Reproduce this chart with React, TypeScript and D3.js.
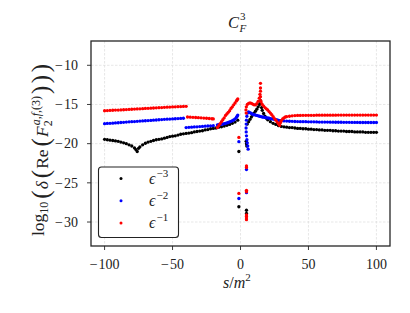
import React from 'react';
import * as d3 from 'd3';

type Pt = [number, number];

// axis ticks
const xTicks = [-100, -50, 0, 50, 100];
const yTicks = [-30, -25, -20, -15, -10];

// legend
const legendExps = ['−3', '−2', '−1'];
const seriesColors = ['black', 'blue', 'red'];

// epsilon^-3 coefficient, [s/m^2, log10 delta]
const epsM3: Pt[] = [
  [-100, -19.45], [-98, -19.5], [-96, -19.55], [-94, -19.6], [-92, -19.65], [-90, -19.7],
  [-88, -19.8], [-86, -19.9], [-84, -20.0], [-82, -20.15], [-80, -20.3], [-78, -20.55],
  [-77, -20.75], [-76, -21.0], [-75, -20.6], [-74, -20.4], [-72, -20.15], [-70, -19.95],
  [-68, -19.8], [-66, -19.7], [-64, -19.6], [-62, -19.5], [-60, -19.45], [-58, -19.4],
  [-56, -19.3], [-54, -19.2], [-52, -19.1], [-50, -19.05], [-48, -19.0], [-46, -18.9],
  [-44, -18.8], [-42, -18.75], [-40, -18.7], [-38, -18.65], [-36, -18.6], [-34, -18.5],
  [-32, -18.45], [-30, -18.4], [-28, -18.35], [-26, -18.25], [-24, -18.2], [-22, -18.1],
  [-20, -18.05], [-18, -18.0], [-16, -17.9], [-14, -17.85], [-12, -17.75], [-10, -17.65],
  [-8, -17.55], [-6, -17.4], [-4, -17.25], [-2, -17.0],
  [-1.2, -21.0], [-1.2, -28.05], [4.2, -19.7], [4.4, -20.0], [4.6, -20.3], [4.4, -28.5], [4.4, -28.9],
  [5, -17.5], [6, -17.2], [7, -16.9], [8, -16.6], [9, -16.35], [10, -16.1], [11, -15.85],
  [12, -15.6], [13, -15.3], [14, -15.0], [14.7, -14.85], [14.7, -14.5], [15.5, -15.4],
  [16, -15.75], [17, -16.15], [18, -16.5], [19, -16.75], [20, -16.95], [22, -17.2],
  [24, -17.4], [26, -17.55], [28, -17.7], [30, -17.8], [32, -17.85], [34, -17.9],
  [36, -17.95], [38, -17.95], [40, -18.0], [42, -18.05], [44, -18.05], [46, -18.1],
  [48, -18.1], [50, -18.15], [52, -18.15], [54, -18.2], [56, -18.2], [58, -18.25],
  [60, -18.25], [62, -18.3], [64, -18.3], [66, -18.3], [68, -18.35], [70, -18.35],
  [72, -18.4], [74, -18.4], [76, -18.4], [78, -18.45], [80, -18.45], [82, -18.45],
  [84, -18.5], [86, -18.5], [88, -18.5], [90, -18.5], [92, -18.55], [94, -18.55],
  [96, -18.55], [98, -18.55], [100, -18.55],
];

// epsilon^-2 coefficient
const epsM2: Pt[] = [
  [-100, -17.45], [-98, -17.42], [-96, -17.4], [-94, -17.38], [-92, -17.35], [-90, -17.33],
  [-88, -17.3], [-86, -17.28], [-84, -17.25], [-82, -17.22], [-80, -17.2], [-78, -17.18],
  [-76, -17.15], [-74, -17.12], [-72, -17.1], [-70, -17.08], [-68, -17.05], [-66, -17.03],
  [-64, -17.0], [-62, -16.98], [-60, -16.95], [-58, -16.93], [-56, -16.9], [-54, -16.88],
  [-52, -16.86], [-50, -16.84], [-48, -16.82], [-46, -16.8], [-44, -16.78], [-42, -16.76],
  [-40, -17.95], [-38, -17.92], [-36, -17.9], [-34, -17.87], [-32, -17.85], [-30, -17.82],
  [-28, -17.8], [-26, -17.77], [-24, -17.75], [-22, -17.72], [-20, -17.7],
  [-17, -17.6], [-16, -17.58], [-15, -17.55], [-14, -17.52], [-13, -17.5], [-12, -17.45],
  [-11, -17.4], [-10, -17.35], [-9, -17.3], [-8, -17.22], [-7, -17.15], [-6, -17.07],
  [-5, -16.98], [-4, -16.85], [-3, -16.65], [-2.5, -16.5], [-2, -16.35],
  [-1.2, -19.75], [-1.2, -27.0], [4.4, -23.3], [4.4, -26.25],
  [5.6, -20.7], [5.3, -20.3], [5.0, -19.9], [4.7, -19.5], [4.4, -19.0], [4.2, -18.5],
  [4.1, -18.0], [4.2, -17.5], [4.4, -17.0], [4.7, -16.5], [5.2, -16.1],
  [6, -15.95], [7, -16.05], [8, -16.15], [9, -16.25], [10, -16.3], [11, -16.35],
  [12, -16.4], [13, -16.45], [14, -16.5], [15, -16.55], [16, -16.6], [17, -16.62],
  [18, -16.65], [19, -16.7], [20, -16.72], [21, -16.75], [22, -16.8], [23, -16.83],
  [24, -16.86], [25, -16.9], [26, -16.94], [27, -16.98], [28, -17.02], [29, -17.06],
  [30, -17.08], [32, -17.1], [34, -17.12], [36, -17.14], [38, -17.15], [40, -17.17],
  [42, -17.18], [44, -17.19], [46, -17.2], [48, -17.2], [50, -17.21], [52, -17.22],
  [54, -17.22], [56, -17.23], [58, -17.24], [60, -17.24], [62, -17.25], [64, -17.25],
  [66, -17.26], [68, -17.26], [70, -17.27], [72, -17.27], [74, -17.27], [76, -17.28],
  [78, -17.28], [80, -17.28], [82, -17.29], [84, -17.29], [86, -17.29], [88, -17.3],
  [90, -17.3], [92, -17.3], [94, -17.3], [96, -17.3], [98, -17.3], [100, -17.3],
];

// epsilon^-1 coefficient
const epsM1: Pt[] = [
  [-100, -15.8], [-98, -15.78], [-96, -15.76], [-94, -15.74], [-92, -15.72], [-90, -15.71],
  [-88, -15.69], [-86, -15.67], [-84, -15.65], [-82, -15.63], [-80, -15.61], [-78, -15.59],
  [-76, -15.57], [-74, -15.55], [-72, -15.53], [-70, -15.51], [-68, -15.49], [-66, -15.47],
  [-64, -15.45], [-62, -15.43], [-60, -15.41], [-58, -15.39], [-56, -15.37], [-54, -15.35],
  [-52, -15.33], [-50, -15.31], [-48, -15.3], [-46, -15.28], [-44, -15.27], [-42, -15.25],
  [-40, -15.24],
  [-39, -16.6], [-37, -16.62], [-35, -16.64], [-33, -16.66], [-31, -16.68], [-29, -16.7],
  [-27, -16.73], [-25, -16.76], [-23, -16.79], [-21, -16.82], [-20, -16.85],
  [-17, -17.95], [-16, -17.7], [-15, -17.45], [-14, -17.2], [-13, -16.95], [-12, -16.7],
  [-11, -16.4], [-10, -16.2], [-9, -16.0], [-8, -15.8], [-7, -15.5], [-6, -15.3],
  [-5, -15.05], [-4, -14.8], [-3, -14.55], [-2.5, -14.42], [-2, -14.3],
  [-1.2, -19.2], [-1.2, -26.35], [4.4, -22.85], [4.4, -23.05], [4.4, -25.95], [4.4, -26.15],
  [4.4, -29.1], [4.4, -29.3], [4.4, -29.5], [4.4, -29.7],
  [4.2, -16.1], [4.0, -15.7], [4.3, -15.3], [5, -15.0], [6, -14.85], [7, -14.8],
  [8, -14.85], [9, -14.95], [10, -15.05], [11, -15.05], [12, -14.9], [13, -14.6],
  [13.8, -14.2], [14.3, -13.7], [14.7, -13.3], [14.7, -12.9], [14.7, -12.3], [14.7, -14.0],
  [14.8, -14.5], [15.2, -14.7], [16, -15.0], [17, -15.2], [18, -15.4], [19, -15.55],
  [20, -15.7], [21, -15.9], [22, -16.1], [23, -16.3], [24, -16.55], [25, -16.8],
  [26, -17.0], [27, -17.25], [28, -17.45], [28.8, -17.65], [29.5, -17.3], [30, -17.05],
  [31, -16.85], [32, -16.7], [33, -16.6], [34, -16.55], [36, -16.5], [38, -16.45],
  [40, -16.42], [42, -16.4], [44, -16.4], [46, -16.39], [48, -16.39], [50, -16.38],
  [52, -16.38], [54, -16.38], [56, -16.37], [58, -16.37], [60, -16.37], [62, -16.36],
  [64, -16.36], [66, -16.36], [68, -16.36], [70, -16.36], [72, -16.35], [74, -16.35],
  [76, -16.35], [78, -16.35], [80, -16.35], [82, -16.35], [84, -16.35], [86, -16.35],
  [88, -16.35], [90, -16.35], [92, -16.35], [94, -16.35], [96, -16.35], [98, -16.35],
  [100, -16.35],
];

const allSeries = [epsM3, epsM2, epsM1];

const W = 410;
const H = 313;
const plot = { left: 91, right: 390, top: 41, bottom: 246 };
const FONT = '"Liberation Serif", "DejaVu Serif", serif';

const App = () => {
  const x = d3.scaleLinear().domain([-110, 110]).range([plot.left, plot.right]);
  const y = d3.scaleLinear().domain([-33.06, -6.9]).range([plot.bottom, plot.top]);

  return (
    <svg width={W} height={H} style={{ position: 'absolute', left: 0, top: 0, background: 'white' }}
      fontFamily={FONT}>
      {/* grid */}
      <g stroke="#dcdcdc" strokeWidth={0.7} strokeDasharray="2.5,1.5">
        {xTicks.map(t => (
          <line key={'gx' + t} x1={x(t)} x2={x(t)} y1={plot.top} y2={plot.bottom} />
        ))}
        {yTicks.map(t => (
          <line key={'gy' + t} x1={plot.left} x2={plot.right} y1={y(t)} y2={y(t)} />
        ))}
      </g>

      {/* points */}
      {allSeries.map((pts, i) => (
        <g key={'s' + i} fill={seriesColors[i]}>
          {pts.map((p, j) => (
            <circle key={j} cx={x(p[0])} cy={y(p[1])} r={1.65} />
          ))}
        </g>
      ))}

      {/* frame */}
      <rect x={plot.left} y={plot.top} width={plot.right - plot.left} height={plot.bottom - plot.top}
        fill="none" stroke="#262626" strokeWidth={1.3} />

      {/* x axis */}
      {xTicks.map(t => (
        <g key={'xt' + t}>
          <line x1={x(t)} x2={x(t)} y1={plot.bottom} y2={plot.bottom + 4} stroke="#262626" strokeWidth={0.9} />
          <text x={x(t)} y={269} textAnchor="middle" fontSize={14} fill="#222">
            {t < 0 ? <><tspan>−</tspan><tspan dx={1}>{Math.abs(t)}</tspan></> : String(t)}
          </text>
        </g>
      ))}

      {/* y axis */}
      {yTicks.map(t => (
        <g key={'yt' + t}>
          <line x1={plot.left - 4} x2={plot.left} y1={y(t)} y2={y(t)} stroke="#262626" strokeWidth={0.9} />
          <text x={78} y={y(t) + 4.8} textAnchor="end" fontSize={14} fill="#222">
            <tspan>−</tspan><tspan dx={1}>{Math.abs(t)}</tspan>
          </text>
        </g>
      ))}

      {/* title */}
      <text x={228} y={28} fontSize={16.5} fill="#222">
        <tspan fontStyle="italic">C</tspan>
        <tspan fontSize={11} dy={-8} dx={1}>3</tspan>
        <tspan fontSize={11} fontStyle="italic" dy={12} dx={-6}>F</tspan>
      </text>

      {/* x label */}
      <text x={223} y={288} fontSize={16} fill="#222">
        <tspan fontStyle="italic">s</tspan>
        <tspan>/</tspan>
        <tspan fontStyle="italic">m</tspan>
        <tspan fontSize={11} dy={-7}>2</tspan>
      </text>

      {/* y label */}
      <text transform={`translate(44,236) rotate(-90)`} fontSize={17.5} fill="#222">
        <tspan>log</tspan>
        <tspan fontSize={12} dy={4}>10</tspan>
        <tspan fontSize={25} dy={1} dx={3}>(</tspan>
        <tspan fontStyle="italic" dy={-1} dx={1}>δ</tspan>
        <tspan fontSize={25} dy={1} dx={3}>(</tspan>
        <tspan dy={-1} dx={1}>Re</tspan>
        <tspan fontSize={25} dy={1} dx={3}>(</tspan>
        <tspan fontStyle="italic" dy={-1} dx={1}>F</tspan>
        <tspan fontSize={12} dy={4}>2</tspan>
        <tspan fontSize={12} fontStyle="italic" dy={-12} dx={-5}>a,f,</tspan>
        <tspan fontSize={12}>(3)</tspan>
        <tspan fontSize={25} dy={9} dx={2}>)</tspan>
        <tspan fontSize={25} dx={2.5}>)</tspan>
        <tspan fontSize={25} dx={2.5}>)</tspan>
      </text>

      {/* legend */}
      <rect x={98.5} y={167} width={80} height={70.5} rx={3} fill="white" stroke="#222" strokeWidth={1.1} />
      {legendExps.map((e, i) => {
        const ly = 178.5 + i * 22.3;
        return (
          <g key={'lg' + i}>
            <circle cx={121} cy={ly} r={1.5} fill={seriesColors[i]} />
            <text x={149} y={ly + 5} fontSize={16} fill="#222">
              <tspan fontStyle="italic">ϵ</tspan>
              <tspan fontSize={11} dy={-7} dx={1}>{e}</tspan>
            </text>
          </g>
        );
      })}
    </svg>
  );
};

export default App;
